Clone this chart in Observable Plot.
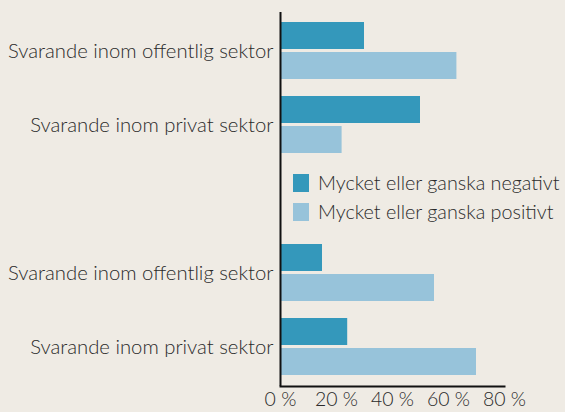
<!DOCTYPE html>
<html>
<head>
<meta charset="utf-8">
<script src="https://cdn.jsdelivr.net/npm/d3@7"></script>
<script src="https://cdn.jsdelivr.net/npm/@observablehq/plot@0.6"></script>
<style>
  html, body { margin: 0; padding: 0; background: #efebe4; }
  body { width: 565px; height: 412px; overflow: hidden; font-family: Lato, "Open Sans", sans-serif; font-weight: 300; }
  #wrap { position: relative; width: 565px; height: 412px; }
  #legend { position: absolute; left: 293px; top: 168px; color: #2a2a2a; font-size: 19.8px; line-height: 29px; }
  #legend .row { display: flex; align-items: center; white-space: nowrap; }
  #legend .sw { width: 16px; height: 18px; margin-right: 9px; flex: none; }
  svg text { font-weight: 300; }
</style>
</head>
<body>
<div id="wrap"><div id="chart"></div><div id="legend"></div></div>
<script>
const categories = ["Svarande inom offentlig sektor", "Svarande inom privat sektor", "Svarande inom offentlig sektor", "Svarande inom privat sektor"];
const categoryKeys = ["0", "1", "2", "3"];
const negativ = [30, 50, 15, 24];
const positiv = [63, 22, 55, 70];
const seriesNames = ["Mycket eller ganska negativt", "Mycket eller ganska positivt"];
const seriesColors = ["#3498bb", "#97c3da"];
const xTicks = [0, 20, 40, 60, 80];

const data = categoryKeys.map((k, i) => ({key: k, label: categories[i], neg: negativ[i], pos: positiv[i]}));
const yDomain = ["0", "1", "gap", "2", "3"];

const chart = Plot.plot({
  width: 565,
  height: 412,
  marginLeft: 280,
  marginRight: 61,
  marginTop: 12,
  marginBottom: 26,
  style: {background: "transparent", fontFamily: "Lato, 'Open Sans', sans-serif", color: "#2a2a2a"},
  x: {domain: [0, 80], axis: null},
  y: {domain: yDomain, paddingInner: 0.2267, paddingOuter: 0.1067, axis: null},
  marks: [
    Plot.barX(data, {x: "neg", y: "key", fill: seriesColors[0], insetBottom: 30}),
    Plot.barX(data, {x: "pos", y: "key", fill: seriesColors[1], insetTop: 30}),
    Plot.axisX({ticks: xTicks, tickFormat: d => d + " %", tickSize: 0, tickPadding: 6, fontSize: 19.5, label: null, fill: "#2a2a2a"}),
    Plot.axisY({ticks: categoryKeys, tickFormat: k => categories[+k], tickSize: 0, tickPadding: 7, fontSize: 20.3, label: null, fill: "#2a2a2a"}),
    Plot.ruleX([0], {stroke: "#111", strokeWidth: 2}),
    Plot.frame({anchor: "bottom", stroke: "#111", strokeWidth: 2})
  ]
});
document.getElementById("chart").appendChild(chart);

const legend = document.getElementById("legend");
seriesNames.forEach((name, i) => {
  const row = document.createElement("div");
  row.className = "row";
  const sw = document.createElement("span");
  sw.className = "sw";
  sw.style.background = seriesColors[i];
  const t = document.createElement("span");
  t.textContent = name;
  row.appendChild(sw);
  row.appendChild(t);
  legend.appendChild(row);
});
</script>
</body>
</html>
